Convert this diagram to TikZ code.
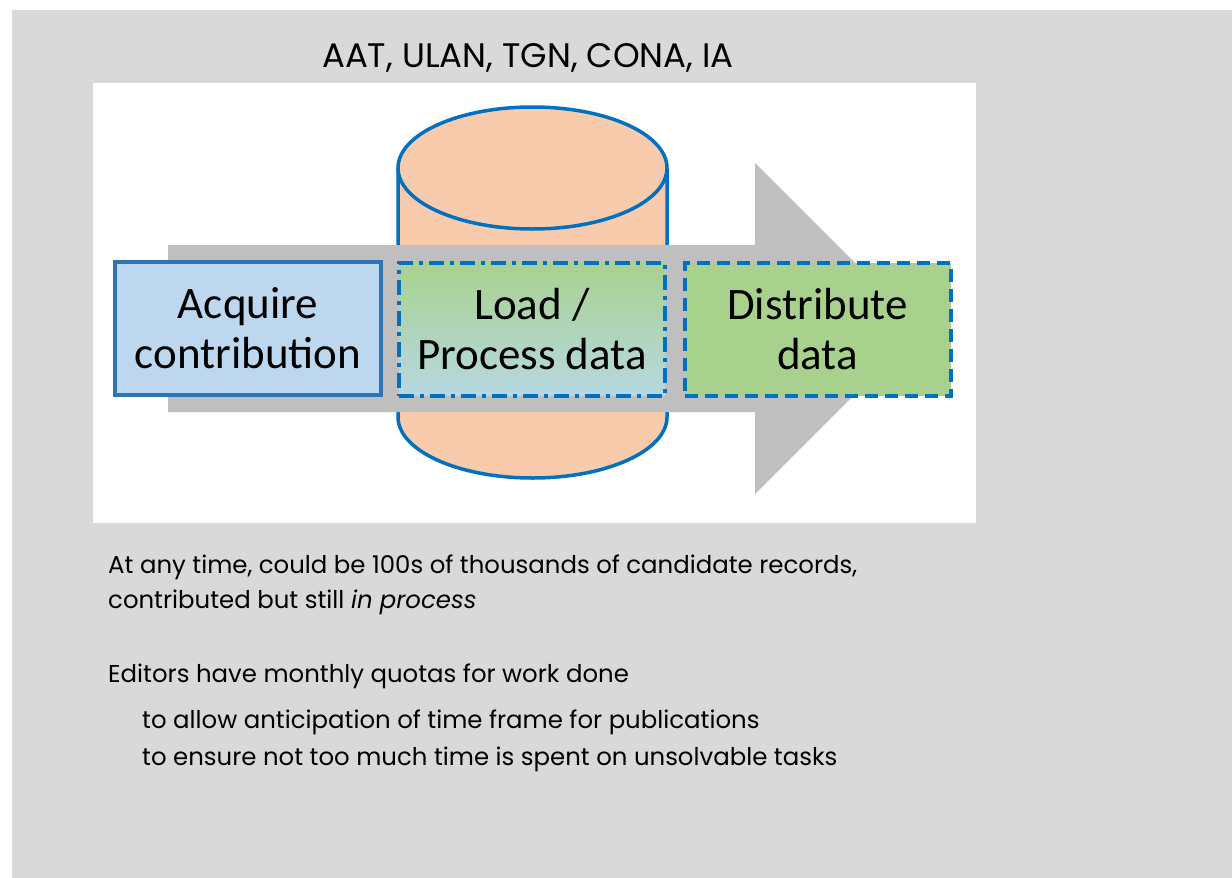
\documentclass[tikz,border=0pt]{standalone}
\usepackage{fontspec}
\setmainfont{Poppins}
\newfontfamily\boxfont{Carlito}
\definecolor{bgGrey}{HTML}{D9D9D9}
\definecolor{arrowGrey}{HTML}{BFBFBF}
\definecolor{cylFill}{HTML}{F8CBAD}
\definecolor{procBlue}{HTML}{0070C0}
\definecolor{acqBlue}{HTML}{2E75B6}
\definecolor{acqFill}{HTML}{BDD7EE}
\definecolor{greenFill}{HTML}{A9D18E}
\definecolor{tealFill}{HTML}{B6D8E2}
\tikzset{
  stagebox/.style={minimum width=266, minimum height=133, inner sep=0pt,
    align=center, font=\boxfont\fontsize{45}{50}\selectfont},
  bodytext/.style={anchor=base west, inner sep=0pt, font=\fontsize{24.4}{28}\selectfont},
  cylstyle/.style={fill=cylFill, draw=procBlue, line width=3.5pt}
}
\begin{document}
\begin{tikzpicture}[x=1pt,y=-1pt]
\useasboundingbox (0,0) rectangle (1232,878);
\fill[white] (0,0) rectangle (1232,878);
\fill[bgGrey] (12,10) rectangle (1232,878);
\fill[white] (93,83) rectangle (976,523);
% cylinder
\path[cylstyle] (398,168) -- (398,417) arc[start angle=180,end angle=0,x radius=134.5,y radius=61] -- (667,168);
\path[cylstyle] (532.5,168) ellipse[x radius=134.5,y radius=61];
% arrow
\fill[arrowGrey] (168,245) -- (755,245) -- (755,163) -- (920.5,328.5) -- (755,494) -- (755,412) -- (168,412) -- cycle;
% stages
\node[stagebox, draw=acqBlue, fill=acqFill, line width=4pt] (acq) at (248,328.5) {Acquire\\contribution};
\node[stagebox, draw=procBlue, line width=4pt, top color=greenFill, bottom color=tealFill,
      dash pattern=on 15pt off 6pt on 4pt off 6pt] (proc) at (532,329) {Load /\\Process data};
\node[stagebox, draw=procBlue, fill=greenFill, line width=4pt,
      dash pattern=on 13pt off 7pt] (dist) at (817.5,329) {Distribute\\data};
% texts
\node[anchor=base, inner sep=0pt, font=\fontsize{34}{40}\selectfont] (title) at (528,67) {AAT, ULAN, TGN, CONA, IA};
\node[bodytext] (l1) at (108,573) {At any time, could be 100s of thousands of candidate records,};
\node[bodytext] (l2) at (108,608) {contributed but still \textit{in process}};
\node[bodytext] (l3) at (108,682) {Editors have monthly quotas for work done};
\node[bodytext] (l4) at (142,728) {to allow anticipation of time frame for publications};
\node[bodytext] (l5) at (142,765) {to ensure not too much time is spent on unsolvable tasks};
\end{tikzpicture}
\end{document}
